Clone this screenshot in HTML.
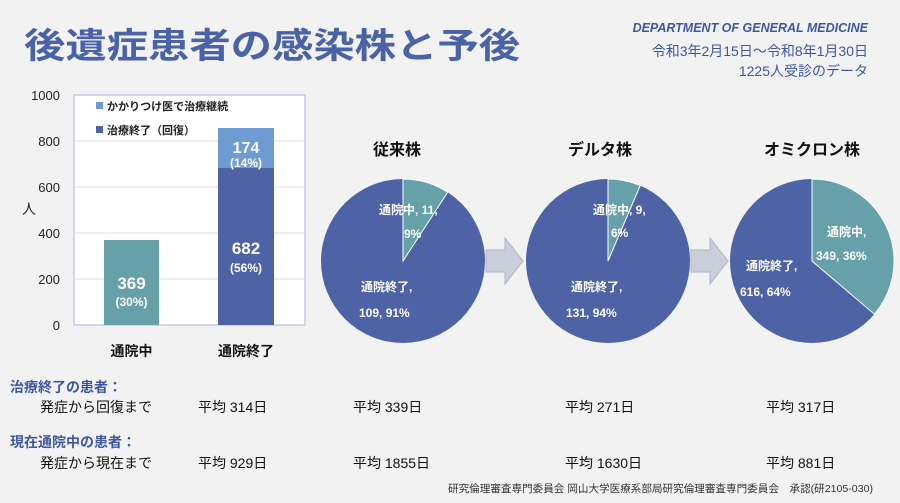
<!DOCTYPE html>
<html><head><meta charset="utf-8"><style>
body{margin:0;width:900px;height:498px;background:#f2f2f2;overflow:hidden}
svg text{font-family:"Liberation Sans","Noto Sans CJK JP",sans-serif}
</style></head><body>
<svg width="900" height="498" viewBox="0 0 900 498" xmlns="http://www.w3.org/2000/svg">
<rect width="900" height="498" fill="#f2f2f2"/>
<text x="24" y="58" font-size="35" font-weight="bold" fill="#4a62a8" textLength="496" lengthAdjust="spacingAndGlyphs">後遺症患者の感染株と予後</text>
<text x="868" y="32" font-size="12.5" font-weight="bold" font-style="italic" fill="#3f57a0" text-anchor="end">DEPARTMENT OF GENERAL MEDICINE</text>
<text x="868" y="56" font-size="14" fill="#3f57a0" text-anchor="end">令和3年2月15日～令和8年1月30日</text>
<text x="868" y="76" font-size="14" fill="#3f57a0" text-anchor="end">1225人受診のデータ</text>
<rect x="74" y="95" width="231" height="230" fill="#fff" stroke="#a9b6d8" stroke-width="1"/>
<g stroke="#dcdcdc" stroke-width="1">
<line x1="74" y1="141" x2="305" y2="141"/><line x1="74" y1="187" x2="305" y2="187"/>
<line x1="74" y1="233" x2="305" y2="233"/><line x1="74" y1="279" x2="305" y2="279"/></g>
<g font-size="13" fill="#222" text-anchor="end">
<text x="60" y="100">1000</text><text x="60" y="146">800</text><text x="60" y="192">600</text>
<text x="60" y="238">400</text><text x="60" y="284">200</text><text x="60" y="330">0</text></g>
<text x="22" y="214" font-size="14" fill="#222">人</text>
<rect x="104" y="240" width="55" height="85" fill="#66a0a9"/>
<rect x="218" y="168" width="56" height="157" fill="#4d63a5"/>
<rect x="218" y="128" width="56" height="40" fill="#6d9bd2"/>
<g fill="#fff" font-weight="bold" text-anchor="middle">
<text x="131.5" y="289" font-size="17">369</text><text x="131.5" y="306" font-size="12">(30%)</text>
<text x="246" y="254" font-size="17">682</text><text x="246" y="272" font-size="12">(56%)</text>
<text x="246" y="153" font-size="16">174</text><text x="246" y="167" font-size="12">(14%)</text></g>
<rect x="96" y="102" width="7" height="7" fill="#6d9bd2"/>
<text x="107" y="110" font-size="11" font-weight="bold" fill="#222">かかりつけ医で治療継続</text>
<rect x="96" y="126" width="7" height="7" fill="#4d63a5"/>
<text x="107" y="134" font-size="11" font-weight="bold" fill="#222">治療終了（回復）</text>
<text x="131.5" y="356" font-size="14" font-weight="bold" fill="#111" text-anchor="middle">通院中</text>
<text x="246" y="356" font-size="14" font-weight="bold" fill="#111" text-anchor="middle">通院終了</text>
<g font-size="16" font-weight="bold" fill="#111" text-anchor="middle">
<text x="397" y="155">従来株</text><text x="600" y="155">デルタ株</text><text x="812" y="155">オミクロン株</text></g>
<circle cx="403" cy="261" r="82" fill="#4d63a5"/>
<path d="M403,261 L403,179 A82,82 0 0 1 447.7,192.2 Z" fill="#66a0a9" stroke="#fff" stroke-width="1"/>
<circle cx="608" cy="261" r="82" fill="#4d63a5"/>
<path d="M608,261 L608,179 A82,82 0 0 1 640.2,185.6 Z" fill="#66a0a9" stroke="#fff" stroke-width="1"/>
<circle cx="812" cy="261" r="82" fill="#4d63a5"/>
<path d="M812,261 L812,179 A82,82 0 0 1 874.4,314.2 Z" fill="#66a0a9" stroke="#fff" stroke-width="1"/>
<g fill="#c9ceda" stroke="#b0b6c6" stroke-width="1">
<path d="M486,250 L505,250 L505,238 L523,261 L505,284 L505,272 L486,272 Z"/>
<path d="M691,250 L710,250 L710,238 L728,261 L710,284 L710,272 L691,272 Z"/></g>
<g fill="#fff" font-size="12" font-weight="bold">
<text x="379" y="214">通院中, 11,</text><text x="404" y="238">9%</text>
<text x="361" y="291">通院終了,</text><text x="359" y="317">109, 91%</text>
<text x="593" y="214">通院中, 9,</text><text x="611" y="237">6%</text>
<text x="571" y="291">通院終了,</text><text x="566" y="317">131, 94%</text>
<text x="827" y="236">通院中,</text><text x="816" y="260">349, 36%</text>
<text x="746" y="270">通院終了,</text><text x="740" y="296">616, 64%</text></g>
<g font-size="14" font-weight="bold" fill="#3f57a0">
<text x="10" y="392">治療終了の患者：</text><text x="10" y="447">現在通院中の患者：</text></g>
<g font-size="14" fill="#111">
<text x="40" y="412">発症から回復まで</text>
<text x="198" y="412">平均 314日</text><text x="353" y="412">平均 339日</text>
<text x="565" y="412">平均 271日</text><text x="766" y="412">平均 317日</text>
<text x="40" y="468">発症から現在まで</text>
<text x="198" y="468">平均 929日</text><text x="353" y="468">平均 1855日</text>
<text x="565" y="468">平均 1630日</text><text x="766" y="468">平均 881日</text></g>
<text x="448" y="492" font-size="10.5" fill="#333" textLength="425" lengthAdjust="spacingAndGlyphs">研究倫理審査専門委員会 岡山大学医療系部局研究倫理審査専門委員会　承認(研2105-030)</text>
</svg>
</body></html>
